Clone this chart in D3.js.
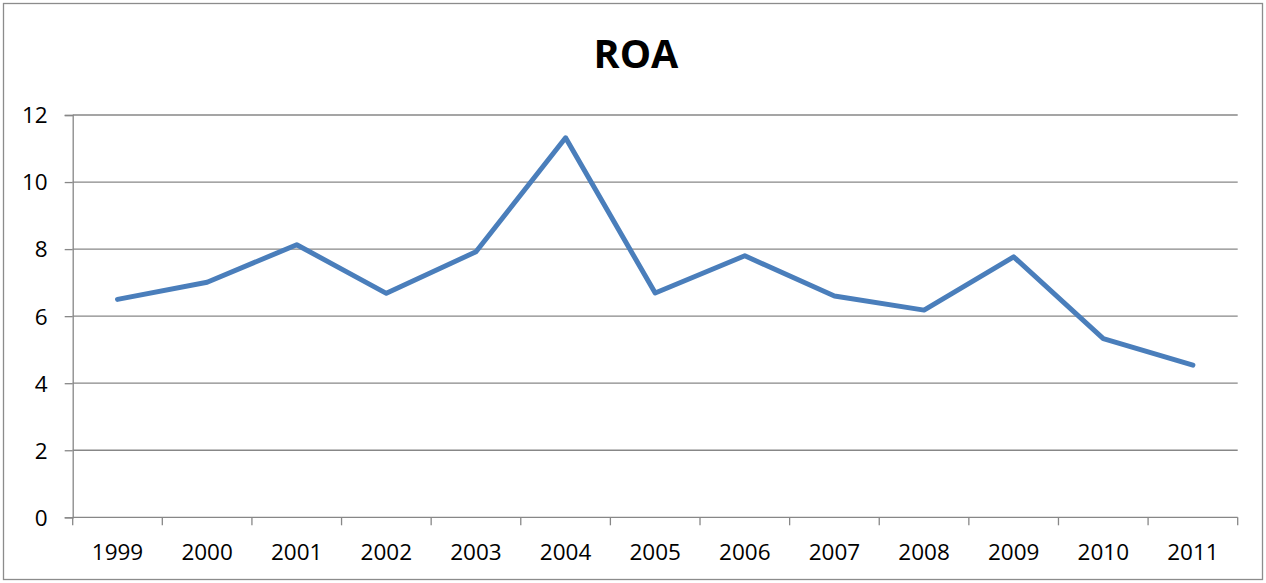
<!DOCTYPE html>
<html>
<head>
<meta charset="utf-8">
<script src="https://cdn.jsdelivr.net/npm/d3@7/dist/d3.min.js"></script>
<style>
  html, body { margin: 0; padding: 0; background: #fff; }
  svg { display: block; }
</style>
</head>
<body>
<svg id="chart" width="1266" height="583"></svg>
<script>
const title = "ROA";
const years = ["1999","2000","2001","2002","2003","2004","2005","2006","2007","2008","2009","2010","2011"];
const roa = [6.50, 7.01, 8.13, 6.68, 7.92, 11.32, 6.69, 7.80, 6.60, 6.18, 7.77, 5.33, 4.54];
const yTicks = [0, 2, 4, 6, 8, 10, 12];

const svg = d3.select("#chart");
const m = { left: 72.7, right: 1237.7, top: 115, bottom: 517.3 };
const font = "'Open Sans', 'Liberation Sans', sans-serif";
const gridColor = "#878787";

svg.append("rect")
  .attr("x", 3.5).attr("y", 3.5)
  .attr("width", 1259).attr("height", 576)
  .attr("fill", "#fff").attr("stroke", "#8c8c8c").attr("stroke-width", 1.3);

const x = d3.scaleBand().domain(years).range([m.left, m.right]).padding(0);
const y = d3.scaleLinear().domain([0, 12]).range([m.bottom, m.top]);

// gridlines
svg.append("g")
  .selectAll("line").data(yTicks.filter(d => d !== 0)).join("line")
  .attr("x1", m.left).attr("x2", m.right)
  .attr("y1", d => y(d)).attr("y2", d => y(d))
  .attr("stroke", gridColor).attr("stroke-width", 1.3);

// y axis
const yAxis = svg.append("g")
  .attr("transform", `translate(${m.left},0)`)
  .call(d3.axisLeft(y).tickValues(yTicks).tickSize(8).tickPadding(17).tickFormat(d3.format("d")));
yAxis.select(".domain").attr("stroke", gridColor).attr("stroke-width", 1.3);
yAxis.selectAll(".tick line").attr("stroke", gridColor).attr("stroke-width", 1.3);
yAxis.selectAll(".tick text")
  .attr("font-family", font).attr("font-size", "22.5px").attr("fill", "#000")
  .attr("dy", "0.35em");

// x axis
const xAxis = svg.append("g")
  .attr("transform", `translate(0,${m.bottom})`)
  .call(d3.axisBottom(x).tickSize(0).tickPadding(0));
xAxis.select(".domain").remove();
xAxis.selectAll(".tick line").remove();
xAxis.selectAll(".tick text")
  .attr("font-family", font).attr("font-size", "22.5px").attr("fill", "#000")
  .attr("y", 0).attr("dy", "42.8px");

// x axis line and tick marks at band boundaries
svg.append("line")
  .attr("x1", m.left).attr("x2", m.right)
  .attr("y1", m.bottom).attr("y2", m.bottom)
  .attr("stroke", gridColor).attr("stroke-width", 1.3);
const bounds = years.map(d => x(d)).concat([x(years[years.length - 1]) + x.bandwidth()]);
svg.append("g").selectAll("line").data(bounds).join("line")
  .attr("x1", d => d).attr("x2", d => d)
  .attr("y1", m.bottom).attr("y2", m.bottom + 8)
  .attr("stroke", gridColor).attr("stroke-width", 1.3);

// line
const line = d3.line()
  .x((d, i) => x(years[i]) + x.bandwidth() / 2)
  .y(d => y(d));
svg.append("path")
  .datum(roa)
  .attr("d", line)
  .attr("fill", "none")
  .attr("stroke", "#4a7ebb")
  .attr("stroke-width", 5)
  .attr("stroke-linejoin", "round")
  .attr("stroke-linecap", "round");

// title
svg.append("text")
  .attr("x", 636).attr("y", 68.3)
  .attr("text-anchor", "middle")
  .attr("font-family", font).attr("font-weight", "bold")
  .attr("font-size", "39.5px").attr("fill", "#000")
  .text(title);
</script>
</body>
</html>
